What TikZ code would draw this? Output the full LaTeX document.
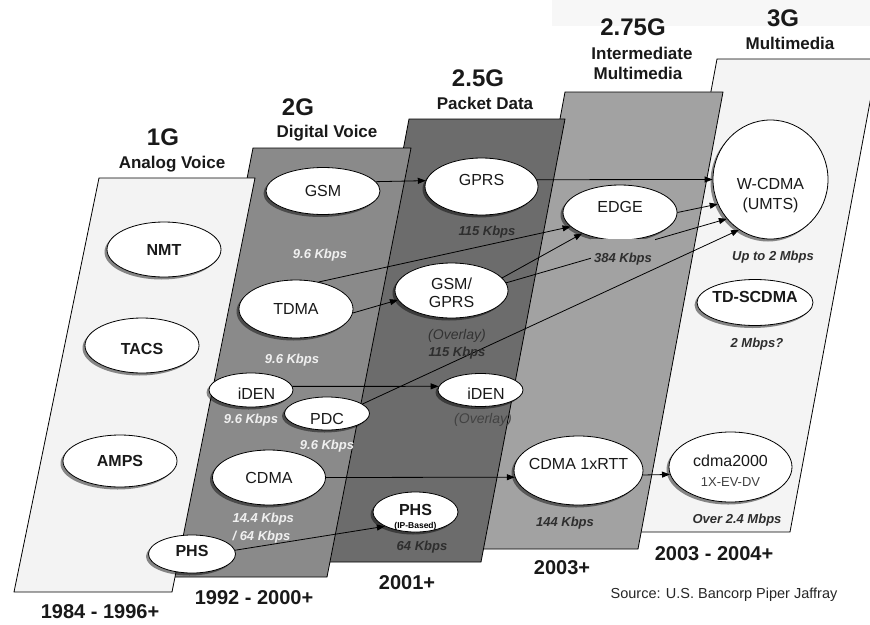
\documentclass[tikz,border=0pt]{standalone}
\usepackage{fontspec}
\setmainfont{Liberation Sans}
\usetikzlibrary{shapes.geometric,shadows,arrows.meta}

% panel fills, one per generation
\definecolor{panelA}{HTML}{F3F3F3} % 1G
\definecolor{panelB}{HTML}{8A8A8A} % 2G
\definecolor{panelC}{HTML}{6C6C6C} % 2.5G
\definecolor{panelD}{HTML}{A2A2A2} % 2.75G
\definecolor{panelE}{HTML}{F4F4F4} % 3G

\tikzset{
  panel/.style={draw=black, line width=0.8pt},
  tech/.style={ellipse, draw=black, line width=0.8pt, fill=white, inner sep=-14pt,
    font=\fontsize{16}{20}\selectfont, text=black!90,
    drop shadow={shadow xshift=-2.5pt, shadow yshift=-2.5pt, opacity=0.45, fill=black}},
  heavy/.style={font=\bfseries\fontsize{16}{20}\selectfont},
  gen/.style={font=\bfseries\fontsize{24}{26}\selectfont, text=black!90},
  era/.style={font=\bfseries\fontsize{17}{19}\selectfont, text=black!90},
  years/.style={font=\bfseries\fontsize{20}{22}\selectfont, text=black!90},
  rate/.style={font=\bfseries\itshape\fontsize{13}{15}\selectfont},
  ratelight/.style={rate, text=white!94!black},
  ratedark/.style={rate, text=black!82},
  overlay/.style={font=\itshape\fontsize{14}{16}\selectfont},
  link/.style={draw=black, line width=0.8pt, -{Triangle[length=8pt,width=6pt]}},
}

\begin{document}
\begin{tikzpicture}[x=1pt,y=-1pt]
\useasboundingbox (0,0) rectangle (870,624);
\fill[black!3] (552,0) rectangle (870,26);

% generation panels, right to left so each sits over the next
\begin{scope}
  \clip (0,0) rectangle (870,624);
  \draw[panel, fill=panelE] (629,532) -- (790,532) -- (878,59) -- (717,59) -- cycle;
\end{scope}
\draw[panel, fill=panelD] (480,549) -- (638,549) -- (723,92) -- (565,92) -- cycle;
\draw[panel, fill=panelC] (325,562) -- (481,562) -- (565,119) -- (409,119) -- cycle;
\draw[panel, fill=panelB] (169,577) -- (327,577) -- (411,148) -- (253,148) -- cycle;
\draw[panel, fill=panelA] (14,592) -- (172,592) -- (255,178) -- (99,178) -- cycle;

% headings
\node[gen] (t1) at (163,137) {1G};
\node[era] (s1) at (172,164) {Analog Voice};
\node[gen] (t2) at (298,107) {2G};
\node[era] (s2) at (327,133) {Digital Voice};
\node[gen] (t3) at (478,78) {2.5G};
\node[era] (s3) at (485,103) {Packet Data};
\node[gen] (t4) at (633,27) {2.75G};
\node[era] (s4a) at (642,53) {Intermediate};
\node[era] (s4b) at (638,73) {Multimedia};
\node[gen] (t5) at (783,18) {3G};
\node[era] (s5) at (790,43) {Multimedia};

% 1G
\node[tech, heavy, minimum width=114pt, minimum height=55pt] (nmt) at (164,249.5) {NMT};
\node[tech, heavy, minimum width=114pt, minimum height=55pt, text height=18pt] (tacs) at (142,345.5) {TACS};
\node[tech, heavy, minimum width=114pt, minimum height=52pt] (amps) at (120,461) {AMPS};

% 2G
\node[tech, minimum width=114pt, minimum height=47pt] (gsm) at (323,191) {GSM};
\node[tech, minimum width=114pt, minimum height=58pt] (tdma) at (296,309) {TDMA};
\node[tech, minimum width=113pt, minimum height=55pt] (cdma) at (269,477.5) {CDMA};
\node[tech, minimum width=84pt, minimum height=34pt, text height=18pt] (iden) at (251,390) {\hspace*{11pt}iDEN};
\node[tech, minimum width=85pt, minimum height=33pt, text height=22pt] (pdc) at (327,413.5) {PDC};
\node[tech, heavy, minimum width=87pt, minimum height=38pt, text depth=6pt] (phs) at (192,554) {PHS};

% 2.5G
\node[tech, minimum width=113pt, minimum height=57pt, text depth=13pt] (gprs) at (481.5,186.5) {GPRS};
\node[tech, minimum width=113pt, minimum height=55pt, align=center,
      font=\fontsize{16}{18}\selectfont, text height=35pt] (gsmgprs) at (451.5,290.5) {GSM/\\GPRS};
\node[tech, minimum width=85pt, minimum height=33pt, text height=18.5pt] (iden2) at (480.5,390) {\hspace*{11pt}iDEN};
\node[tech, heavy, minimum width=85pt, minimum height=40pt, text depth=4pt] (phsip) at (415.5,512) {PHS};
\node[font=\bfseries\fontsize{8.5}{9}\selectfont, inner sep=0pt] (phsipnote) at (415.5,526) {(IP-Based)};

% 2.75G
\node[tech, minimum width=114pt, minimum height=55pt, text depth=12pt] (edge) at (620,212.5) {EDGE};
\node[tech, minimum width=129pt, minimum height=69pt, text depth=13pt] (rtt) at (578.5,470.5) {CDMA 1xRTT};

% 3G
\node[tech, minimum width=115pt, minimum height=119pt, align=center, text height=63pt] (wcdma) at (770.5,179.5) {W-CDMA\\(UMTS)};
\node[tech, heavy, minimum width=116pt, minimum height=46pt, text depth=11pt] (tdscdma) at (755,302.5) {TD-SCDMA};
\node[tech, minimum width=123pt, minimum height=70pt, align=center, text height=38pt] (cdma2k) at (730.5,467)
  {cdma2000\\{\fontsize{13}{15}\selectfont\color{black!75}1X-EV-DV}};

% migration paths
\draw[link] (gsm.10) -- (gprs.174);
\draw[link] (gprs.7) -- (wcdma.west);
\draw[link] (edge.east) -- (wcdma.205);
\draw[link] (tdma.50) -- (edge.196);
\draw[link] (tdma.356) -- (gsmgprs.190);
\draw[link] (gsmgprs.14) -- (edge.209);
\draw[link] (gsmgprs.8) -- (wcdma.222);
\draw[link] (pdc.15) -- (wcdma.238);
\draw[link] (iden.5) -- (iden2.175);
\draw[link] (cdma.east) -- (rtt.186);
\draw[link] (rtt.356) -- (cdma2k.187);
\draw[link] (phs.5) -- (phsip.205);

% data rates
\node[ratelight] (r-gsm) at (320,255) {9.6 Kbps};
\node[ratelight] (r-tdma) at (292,360) {9.6 Kbps};
\node[ratelight] (r-iden) at (251,420) {9.6 Kbps};
\node[ratelight] (r-pdc) at (327,446) {9.6 Kbps};
\node[ratelight, anchor=west] (r-cdma-a) at (229,519) {14.4 Kbps};
\node[ratelight, anchor=west] (r-cdma-b) at (229,537) {/ 64 Kbps};
\node[ratedark] (r-gprs) at (487,232) {115 Kbps};
\node[overlay, text=black!80] (o-gsmgprs) at (457,336) {(Overlay)};
\node[ratedark] (r-gsmgprs) at (457,353) {115 Kbps};
\node[overlay, text=black!74] (o-iden) at (483,420) {(Overlay)};
\node[ratedark] (r-phs) at (422,547) {64 Kbps};
\node[ratedark, fill=panelD, anchor=base, inner xsep=3pt, inner ysep=0pt,
      text height=23pt, text depth=4pt] (r-edge) at (623,262) {384 Kbps};
\node[ratedark] (r-rtt) at (565,523) {144 Kbps};
\node[ratedark] (r-wcdma) at (773,257) {Up to 2 Mbps};
\node[ratedark] (r-td) at (757,344) {2 Mbps?};
\node[ratedark] (r-c2k) at (737,520) {Over 2.4 Mbps};

% years
\node[years] (y1) at (100,612) {1984 - 1996+};
\node[years] (y2) at (254,598) {1992 - 2000+};
\node[years] (y3) at (407,583) {2001+};
\node[years] (y4) at (562,568) {2003+};
\node[years] (y5) at (714,554) {2003 - 2004+};

\node[font=\fontsize{14.5}{16}\selectfont, text=black!85] (src) at (724,595) {Source: U.S. Bancorp Piper Jaffray};
\end{tikzpicture}
\end{document}
